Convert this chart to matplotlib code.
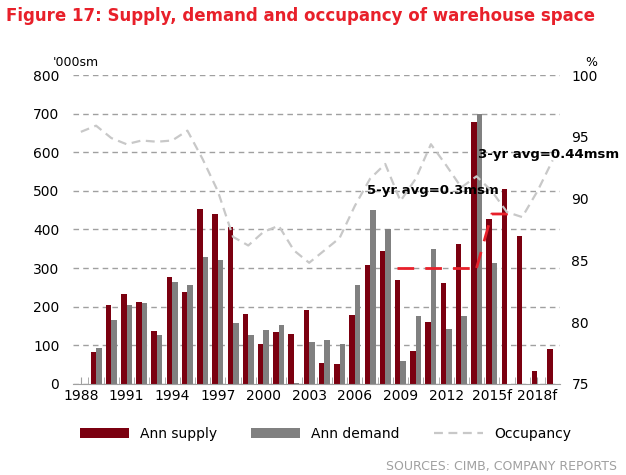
import numpy as np
import matplotlib.pyplot as plt

years = list(range(1988, 2020))
supply = [0, 83, 203, 232, 213, 137, 278, 238, 452, 440, 405, 180, 102, 135, 130, 190,
          55, 52, 178, 307, 345, 268, 85, 160, 260, 363, 678, 428, 505, 382, 32, 90]
demand = [0, 93, 165, 203, 210, 127, 265, 257, 328, 322, 157, 127, 140, 152, 3, 108,
          113, 102, 257, 450, 400, 58, 175, 350, 142, 175, 700, 313, 0, 0, 0, 0]
occupancy = [95.4, 95.9, 94.9, 94.4, 94.7, 94.6, 94.7, 95.5, 93.2, 90.6, 86.9, 86.2, 87.3,
             87.8, 85.8, 84.8, 85.8, 86.8, 89.4, 91.6, 92.8, 89.8, 91.6, 94.4, 92.7, 90.9,
             91.8, 90.6, 88.9, 88.5, 90.6, 93.1]
tick_labels = ['1988', '1991', '1994', '1997', '2000', '2003', '2006', '2009', '2012', '2015f', '2018f']

x = np.arange(len(years))
fig = plt.figure(figsize=(6.26, 4.75), dpi=100)
ax = fig.add_axes([0.117, 0.192, 0.778, 0.65])
ax.yaxis.grid(True, color='#a0a0a0', linestyle=(0, (4, 3)), linewidth=1)
ax.set_axisbelow(True)
w = 0.36
ax.bar(x - w/2, supply, w, color='#7b0010', label='Ann supply')
ax.bar(x + w/2, demand, w, color='#808080', label='Ann demand')
ax.set_xlim(-0.5, len(years) - 0.5)
ax.set_ylim(0, 800)
ax.set_yticks(range(0, 801, 100))
ax.set_xticks(x[::3])
ax.set_xticklabels(tick_labels)
ax.set_xticks(x[:-1] + 0.5, minor=True)
ax.tick_params(axis='x', which='both', direction='in', length=5, color='#a0a0a0')
ax.tick_params(axis='y', length=0, labelsize=10, pad=10)
ax.tick_params(axis='x', labelsize=10)
for s in ['top', 'left', 'right']:
    ax.spines[s].set_visible(False)
ax.spines['bottom'].set_color('#a0a0a0')

# averages
ax.plot([20.8, 26.0], [300, 300], color='#e8202a', lw=2, dashes=(6, 4))
ax.plot([26.0, 27.0, 28.6], [300, 440, 440], color='#e8202a', lw=2, dashes=(6, 4))
ax.text(18.8, 492, '5-yr avg=0.3msm', fontsize=9.5, fontweight='bold')
ax.text(26.1, 585, '3-yr avg=0.44msm', fontsize=9.5, fontweight='bold')

ax2 = ax.twinx()
ax2.plot(x, occupancy, color='#c8c8c8', lw=1.6, dashes=(4, 2.5), label='Occupancy')
ax2.set_ylim(75, 100)
ax2.set_yticks(range(75, 101, 5))
ax2.tick_params(axis='y', length=0, labelsize=10, pad=8)
for s in ['top', 'left', 'right', 'bottom']:
    ax2.spines[s].set_visible(False)

fig.text(0.085, 0.86, "'000sm", fontsize=9)
fig.text(0.935, 0.86, '%', fontsize=9)
fig.text(0.01, 0.955, 'Figure 17: Supply, demand and occupancy of warehouse space',
         color='#e8202a', fontsize=12, fontweight='bold')
h1, l1 = ax.get_legend_handles_labels()
h2, l2 = ax2.get_legend_handles_labels()
fig.legend(h1 + h2, l1 + l2, loc='lower center', bbox_to_anchor=(0.52, 0.045), ncol=3,
           frameon=False, fontsize=10, handlelength=3.5, columnspacing=2.5)
fig.text(0.985, 0.01, 'SOURCES: CIMB, COMPANY REPORTS', color='#a0a0a0', fontsize=9, ha='right')
fig.savefig('out.png')
